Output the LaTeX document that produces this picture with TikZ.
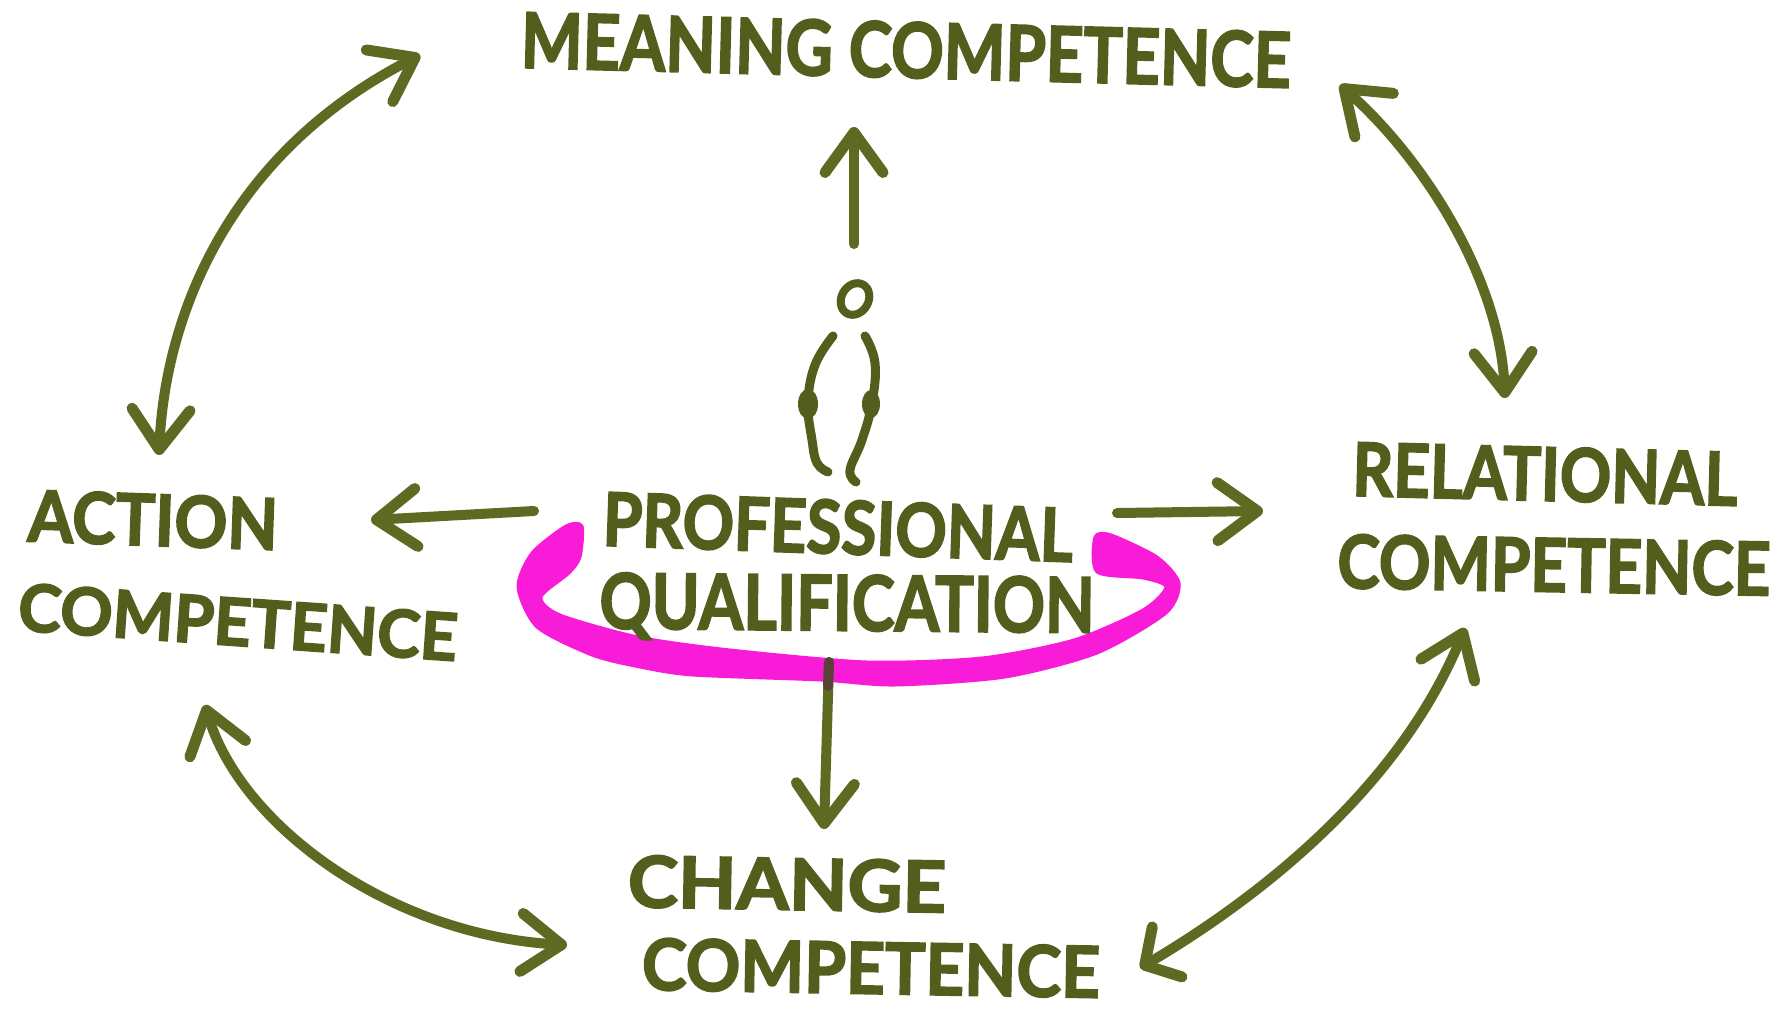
\documentclass[tikz,border=0pt]{standalone}
\usepackage{fontspec}
\usepackage{graphicx}
\newfontfamily\handfont{Lato}[BoldFeatures={FakeBold=2.5}]
\usetikzlibrary{arrows.meta,calc,shapes.geometric}
\definecolor{ink}{HTML}{525E1C}
\definecolor{inkline}{HTML}{5C6A22}
\definecolor{inkdark}{HTML}{5A4238}
\definecolor{marker}{HTML}{F81BD8}
\newcommand{\handtext}[3]{\resizebox{#1pt}{#2pt}{\handfont\bfseries #3}}
\tikzset{
  hand/.style={inner sep=0pt,outer sep=0pt,text=ink},
  barb/.tip={Straight Barb[length=40pt,width=58pt,line width=11pt,round]},
  barbwide/.tip={Straight Barb[length=26pt,width=58pt,line width=11pt,round]},
  link/.style={draw=inkline,line width=10pt,line cap=round},
  two/.style={link,{barb}-{barb}},
  one/.style={link,-{barb}},
  limb/.style={draw=ink,line width=9pt,line cap=round,line join=round}
}
\begin{document}
\begin{tikzpicture}[x=1pt,y=-1pt]
\useasboundingbox (0,0) rectangle (1781,1009);
\fill[white] (0,0) rectangle (1781,1009);
% marker band
\filldraw[fill=marker,draw=marker,line width=3pt,line join=round] plot[smooth cycle,tension=0.45] coordinates {
 (566,526)(582,526)(580,557)(569,573)(541,597)(560,615)(638,637)(730,650)(867,662)(982,658)
 (1074,640)(1143,610)(1166,587)(1143,578)(1097,572)(1095,537)(1111,535)(1157,557)(1179,583)
 (1166,613)(1097,653)(1005,677)(895,685)(821,680)(693,675)(640,667)(592,655)(537,627)(518,587)(532,553)};
% labels
\node[hand,rotate=-1.5] (meaning) at (906,50) {\handtext{770}{56}{MEANING COMPETENCE}};
\node[hand,rotate=-2] (action1) at (153,520) {\handtext{250}{52}{ACTION}};
\node[hand,rotate=-4] (action2) at (238,622) {\handtext{440}{48}{COMPETENCE}};
\node[hand,rotate=-2] (prof) at (838,527) {\handtext{470}{54}{PROFESSIONAL}};
\node[hand,rotate=-0.5] (qual) at (847,608) {\handtext{495}{56}{QUALIFICATION}};
\node[hand,rotate=-1.5] (rel1) at (1545,474) {\handtext{385}{54}{RELATIONAL}};
\node[hand,rotate=-1] (rel2) at (1554,565) {\handtext{433}{54}{COMPETENCE}};
\node[hand,rotate=-1] (change1) at (787,884) {\handtext{318}{52}{CHANGE}};
\node[hand,rotate=-1] (change2) at (871,968) {\handtext{458}{52}{COMPETENCE}};
% person
\node[draw=ink,line width=8pt,ellipse,inner sep=0pt,rotate=-30,minimum width=27pt,minimum height=33pt] (head) at (855,299) {};
\draw[limb] plot[smooth,tension=0.7] coordinates {(833,336)(815,365)(808,403)(812,440)(817,463)(828,472)};
\draw[limb] plot[smooth,tension=0.7] coordinates {(865,336)(875,363)(872,403)(862,440)(850,470)(856,482)};
\fill[ink] (808,404) ellipse (10pt and 15pt);
\fill[ink] (871,404) ellipse (9pt and 14pt);
% curved links
\path[two] ($(action1)+(6,-65)$) .. controls ($(action1)+(12,-200)$) and ($(action1)+(72,-365)$) .. ($(meaning)+(-486,5)$);
\path[two] ($(meaning)+(434,35)$) .. controls ($(meaning)+(519,110)$) and ($(rel1)+(-45,-194)$) .. ($(rel1)+(-40,-76)$);
\path[link,{barb}-{barbwide}] ($(rel2)+(-89,63)$) .. controls ($(rel2)+(-149,210)$) and ($(change2)+(409,-83)$) .. ($(change2)+(269,0)$);
\path[two] ($(change1)+(-220,61)$) .. controls ($(change1)+(-397,51)$) and ($(action2)+(2,203)$) .. ($(action2)+(-33,83)$);
% straight links
\path[one] ($(prof)+(-304,-16)$) -- ($(action1)+(218,0)$);
\path[one] ($(prof)+(279,-14)$) -- ($(rel1)+(-282,37)$);
\path[one] ($(head)+(-1,-55)$) -- ($(meaning)+(-52,77)$);
\path[one] ($(qual)+(-18,54)$) -- ($(change1)+(37,-55)$);
\draw[line width=10pt,line cap=round,draw=inkdark] ($(qual)+(-18,54)$) -- ($(qual)+(-19,78)$);
\end{tikzpicture}
\end{document}
